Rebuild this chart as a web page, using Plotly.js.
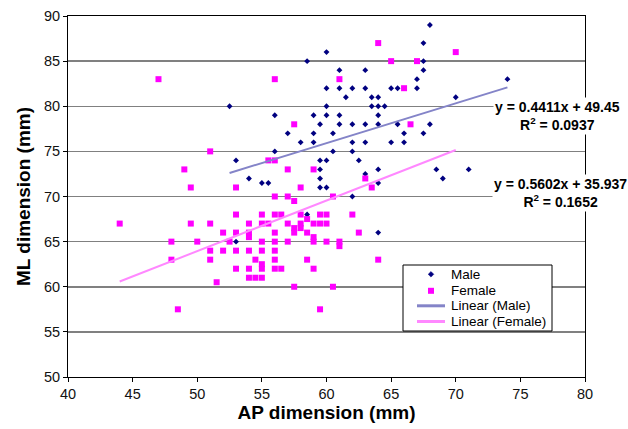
<!DOCTYPE html>
<html>
<head>
<meta charset="utf-8">
<script src="https://cdn.plot.ly/plotly-3.0.1.min.js"></script>
<style>html,body{margin:0;padding:0;background:#fff;}#chart{width:628px;height:429px;}</style>
</head>
<body>
<div id="chart"></div>
<script>
// Male data (AP dimension, ML dimension in mm)
var maleAP = [52.5,56,56,53,54,55,55.5,
  68,67.5,60,58.5,67.5,61,63,67.5,67,
  60,61,62,63,65,65.5,67,
  61.5,63.5,64,70,
  60,63.5,64,64.5,
  59,60,61,64,
  59.5,61,62,63,64,65.5,68,
  57,59,60.5,66,67.5,
  58,59,62,63,65,66,
  60.5,62,
  62.5,59.5,60,
  59.5,64,68.5,71,
  63,59.5,69,64,59.5,60,62,
  53,58.5,64,74];
var maleML = [80,79,75,74,72,71.5,71.5,
  89,87,86,85,85,84,84,84,83,
  82,82,82,82,82,82,82,
  81,81,81,81,
  80,80,80,80,
  79,79,79,79,
  78,78,78,78,78,78,78,
  77,77,77,77,77,
  76,76,76,76,76,76,
  75,75,
  74,74,74,
  73,73,73,73,
  72.5,72,72,71.5,71,71,70,
  65,68,66,83];

// Female data
var femaleAP = [47,56,51,55.5,56,49,49.5,53,56,
  64,70,65,67,61,66,57.5,66.5,
  57,59,63,58,63.5,57,60.5,57.5,
  53,55,56,56.5,
  44,49.5,51,54,55,55.5,
  52,53,54,56,54,
  48,50,52.5,55,56,
  51,52,53,54,55,56,
  48,51,54.5,56,
  55,55,
  53,54,56,56.5,
  54,54.5,55,
  51.5,48.5,
  58,59.5,60,62,58.5,57,58,58,59,59.5,60,
  57.5,57.5,58.5,62.5,
  57,59,59,60,61,61,
  58.5,64,59,57.5,60.5,59.5];
var femaleML = [83,83,75,74,74,73,71,71,70,
  87,86,85,85,83,82,78,78,
  73,73,72,71,71,70,70,69.5,
  68,68,68,68,
  67,67,67,67,67,67,
  66,66,66,66,65.5,
  65,65,65,65,65,
  64,64,64,64,64,64,
  63,63,63,63,
  62.5,62,
  62,62,62,62,
  61,61,61,
  60.5,57.5,
  68,68,68,68,67.5,67,67,66.5,67,67,67,
  66.5,66,66,66,
  65,65.5,65,65,65,64.5,
  63,63,62,60,60,57.5];

// Trendline coefficients as printed on the chart
var maleSlope = 0.4411, maleIntercept = 49.45, maleR2 = '0.0937';
var femaleSlope = 0.5602, femaleIntercept = 35.937, femaleR2 = '0.1652';

// Series names and axis ticks
var seriesNames = ['Male', 'Female', 'Linear (Male)', 'Linear (Female)'];
var xTicks = [40,45,50,55,60,65,70,75,80];
var yTicks = [50,55,60,65,70,75,80,85,90];

function fitLine(xs, m, b) {
  var lo = Math.min.apply(null, xs), hi = Math.max.apply(null, xs);
  return {x: [lo, hi], y: [m*lo + b, m*hi + b]};
}
var mLine = fitLine(maleAP, maleSlope, maleIntercept);
var fLine = fitLine(femaleAP, femaleSlope, femaleIntercept);

var FONT = 'Arial, "Liberation Sans", sans-serif';
var W = 628, H = 429, ML_ = 68, MR = 43, MT = 16, MB = 52;
var PW = W - ML_ - MR, PH = H - MT - MB;
function px(x) { return (x - ML_) / PW; }
function py(y) { return (H - MB - y) / PH; }

var maleColor = '#000080', femaleColor = '#FF00FF';
var maleLineColor = '#8484C8', femaleLineColor = '#FF88FF';

var traces = [
  {type:'scatter', mode:'markers', name:seriesNames[0], x:maleAP, y:maleML,
   marker:{symbol:'diamond', size:4.5, color:maleColor}},
  {type:'scatter', mode:'markers', name:seriesNames[1], x:femaleAP, y:femaleML,
   marker:{symbol:'square', size:6, color:femaleColor}},
  {type:'scatter', mode:'lines', name:seriesNames[2], x:mLine.x, y:mLine.y,
   line:{color:maleLineColor, width:2}},
  {type:'scatter', mode:'lines', name:seriesNames[3], x:fLine.x, y:fLine.y,
   line:{color:femaleLineColor, width:2}}
];

// Legend drawn as a boxed key (pixel positions)
var legBox = {x0:403, x1:552, y0:265, y1:331};
var rowY = [274.3, 290.8, 305.8, 321.5];
var symX = 431, lineX0 = 417, lineX1 = 445, textX = 449;
var shapes = [
  {type:'rect', xref:'paper', yref:'paper', x0:px(legBox.x0), x1:px(legBox.x1),
   y0:py(legBox.y1), y1:py(legBox.y0), line:{color:'#000', width:1}, fillcolor:'#fff', layer:'above'}
];
(function(){
  var d = 2.8, cx = symX, cy = rowY[0];
  shapes.push({type:'path', xref:'paper', yref:'paper', layer:'above',
    path:'M'+px(cx)+','+py(cy-d)+' L'+px(cx+d)+','+py(cy)+' L'+px(cx)+','+py(cy+d)+' L'+px(cx-d)+','+py(cy)+' Z',
    fillcolor:maleColor, line:{color:maleColor, width:0.5}});
  var s = 3, cy2 = rowY[1];
  shapes.push({type:'rect', xref:'paper', yref:'paper', layer:'above',
    x0:px(cx-s), x1:px(cx+s), y0:py(cy2+s), y1:py(cy2-s),
    fillcolor:femaleColor, line:{color:femaleColor, width:0}});
  shapes.push({type:'line', xref:'paper', yref:'paper', layer:'above',
    x0:px(lineX0), x1:px(lineX1), y0:py(rowY[2]), y1:py(rowY[2]),
    line:{color:maleLineColor, width:3}});
  shapes.push({type:'line', xref:'paper', yref:'paper', layer:'above',
    x0:px(lineX0), x1:px(lineX1), y0:py(rowY[3]), y1:py(rowY[3]),
    line:{color:femaleLineColor, width:3}});
})();

var annotations = [
  {xref:'x', yref:'y', x:77.85, y:78.97, showarrow:false, bgcolor:'#fff',
   text:'y = ' + maleSlope + 'x + ' + maleIntercept + '<br>R<sup>2</sup> = ' + maleR2,
   font:{family:FONT, size:14, color:'#000', weight:'bold'}},
  {xref:'x', yref:'y', x:78.07, y:70.44, showarrow:false, bgcolor:'#fff',
   text:'y = ' + femaleSlope + 'x + ' + femaleIntercept + '<br>R<sup>2</sup> = ' + femaleR2,
   font:{family:FONT, size:14, color:'#000', weight:'bold'}}
];
seriesNames.forEach(function(n, i){
  annotations.push({xref:'paper', yref:'paper', x:px(textX), y:py(rowY[i]),
    xanchor:'left', yanchor:'middle', showarrow:false, text:n,
    font:{family:FONT, size:13.5, color:'#000'}});
});

var layout = {
  width:W, height:H,
  margin:{l:ML_, r:MR, t:MT, b:MB},
  paper_bgcolor:'#fff', plot_bgcolor:'#fff',
  font:{family:FONT, color:'#000'},
  showlegend:false,
  xaxis:{range:[40,80], tickvals:xTicks, ticktext:xTicks.map(String),
    showgrid:false, zeroline:false, showline:true, linecolor:'#000', linewidth:1, mirror:true,
    ticks:'outside', ticklen:4, tickcolor:'#000', tickfont:{size:14.5, family:FONT, color:'#111'},
    title:{text:'AP dimension (mm)', font:{size:19, family:FONT, color:'#000', weight:'bold'}, standoff:4}},
  yaxis:{range:[50,90], tickvals:yTicks, ticktext:yTicks.map(String),
    showgrid:true, gridcolor:'#808080', gridwidth:1.5, zeroline:false,
    showline:true, linecolor:'#000', linewidth:1, mirror:true,
    ticks:'outside', ticklen:4, tickcolor:'#000', tickfont:{size:14.5, family:FONT, color:'#111'},
    title:{text:'ML dimension (mm)', font:{size:19, family:FONT, color:'#000', weight:'bold'}, standoff:8}},
  shapes:shapes,
  annotations:annotations
};

Plotly.newPlot('chart', traces, layout, {displayModeBar:false, staticPlot:true});
</script>
</body>
</html>
